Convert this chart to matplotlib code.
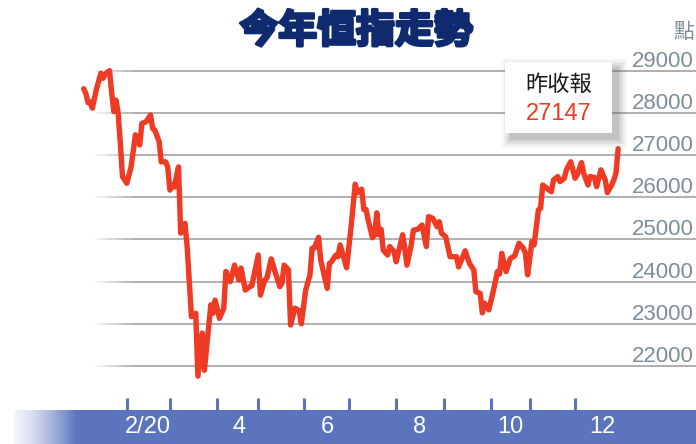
"""
Hang Seng Index, 2020 year-to-date (今年恒指走勢)
Renders out.png, 696x444.
"""

import matplotlib
matplotlib.use("Agg")
import matplotlib.pyplot as plt
import matplotlib.transforms as mtransforms
import matplotlib.patheffects as pe
from matplotlib.colors import to_rgb
from matplotlib.patches import Rectangle

plt.rcParams["font.family"] = ["Liberation Sans", "Noto Sans CJK TC", "DejaVu Sans"]
CJK = ["Noto Sans CJK TC", "DejaVu Sans"]

W, H = 696, 444

# Trading-day index (0 = first session of the year) and index level
days = [0, 1, 2, 3, 4, 6, 8, 9, 10, 12, 13, 14, 15, 16, 17, 18, 20, 22, 24, 26,
        27, 29, 31, 32, 33, 35, 36, 38, 39, 40, 41, 42, 44, 45, 47, 48, 50, 52, 53, 55,
        56, 58, 59, 60, 61, 63, 65, 66, 68, 70, 72, 73, 75, 77, 78, 81, 82, 84, 85, 87,
        89, 91, 92, 93, 95, 96, 98, 100, 101, 103, 105, 106, 107, 109, 110, 113, 114, 115, 117, 118,
        119, 122, 124, 126, 127, 129, 130, 131, 132, 134, 135, 136, 137, 138, 139, 141, 142, 144, 145, 148,
        149, 150, 152, 153, 155, 157, 159, 160, 162, 164, 165, 166, 168, 170, 173, 174, 177, 179, 181, 182,
        184, 185, 186, 188, 190, 192, 193, 194, 196, 198, 200, 202, 204, 205, 206, 208, 209, 211, 212, 213,
        215, 217, 218, 220, 221, 223, 224, 226, 228, 229, 231, 232, 234, 235, 237, 238, 240, 242, 243, 245,
        246, 247, 248]
hsi = [28570, 28460, 28240, 28260, 28110, 28580, 28940, 28820, 28920, 29000, 28460, 28030, 28300, 27990, 27280, 26490, 26330, 26720, 27480, 27240,
       27750, 27790, 27950, 27630, 27590, 27320, 26840, 26840, 26720, 26170, 26290, 26240, 26720, 25150, 25380, 24830, 23170, 23250, 21760, 22780,
       21900, 22930, 23450, 23250, 23560, 23130, 23370, 24240, 24000, 24390, 24040, 24320, 23800, 23880, 23900, 24630, 23680, 24040, 24080, 24540,
       24200, 23880, 23960, 24390, 24280, 22970, 23370, 23310, 23000, 23800, 24160, 24790, 24790, 25050, 24510, 23840, 24430, 24470, 24630, 24590,
       24870, 24330, 25260, 26310, 26110, 26190, 25710, 25710, 25460, 25040, 25110, 25630, 25110, 25240, 24750, 24630, 24830, 24710, 24470, 25110,
       24790, 24390, 24870, 25220, 25240, 25340, 24830, 25540, 25500, 25300, 25420, 25150, 25060, 24590, 24590, 24350, 24730, 24430, 24280, 23760,
       23720, 23260, 23490, 23330, 23760, 24240, 24180, 24670, 24240, 24550, 24610, 24910, 24790, 24670, 24160, 24950, 24870, 25700, 25740, 26290,
       26210, 26130, 26410, 26490, 26370, 26450, 26650, 26840, 26450, 26530, 26820, 26570, 26290, 26490, 26470, 26250, 26650, 26410, 26110, 26290,
       26410, 26570, 27150]

y_levels = [22000, 23000, 24000, 25000, 26000, 27000, 28000, 29000]
month_starts = [20, 40, 62, 81, 102, 123, 145, 167, 189, 207, 228]
label_days = [30, 72, 113, 156, 198, 240.5]
month_labels = ["2/20", "4", "6", "8", "10", "12"]
last_close = "27147"

LINE_RED = "#ef3b23"
BAR_BLUE = "#5b74bd"
AXIS_GREY = "#7d8e98"
GRID_GREY = "#a9a9a9"
TITLE_NAVY = "#0f2a6e"

fig = plt.figure(figsize=(W / 100, H / 100), dpi=100)
ax = fig.add_axes([0, 0, 1, 1])
ax.set_axis_off()

# scale: day 0 at px 83.7, 2.155 px per session; 22000 at px 366, 42.19 px per 1000 points
x0_px, px_per_day = 83.7, 2.155
y0_px, px_per_pt = 366.0, 0.04219
ax.set_xlim(-x0_px / px_per_day, (W - x0_px) / px_per_day)
ax.set_ylim(22000 - (H - y0_px) / px_per_pt, 22000 + y0_px / px_per_pt)

# pixel coords, origin top-left
px = mtransforms.Affine2D().scale(1 / W, -1 / H).translate(0, 1) + fig.transFigure
px_x_data_y = mtransforms.blended_transform_factory(px, ax.transData)
data_x_px_y = mtransforms.blended_transform_factory(ax.transData, px)


def fade(color, t):
    """Blend colour toward white; t=1 gives the full colour."""
    r, g, b = to_rgb(color)
    return (1 - t + t * r, 1 - t + t * g, 1 - t + t * b)


# ── gridlines, fading in on the left ─────────────────────────────────────
fade_start, fade_end, n_fade = 92, 135, 20
step = (fade_end - fade_start) / n_fade
for lvl in y_levels:
    ax.plot([fade_end - 0.5, W], [lvl, lvl], transform=px_x_data_y,
            color=GRID_GREY, lw=1.3, zorder=1, solid_capstyle="butt")
    for i in range(n_fade):
        xa = fade_start + i * step
        ax.plot([xa, xa + step + 0.5], [lvl, lvl], transform=px_x_data_y,
                color=fade(GRID_GREY, (i + 0.5) / n_fade), lw=1.3, zorder=1,
                solid_capstyle="butt")
    ax.text(694, lvl, f"{lvl}", transform=mtransforms.offset_copy(px_x_data_y, fig, y=4, units="dots"),
            ha="right", va="baseline", fontsize=16, color=AXIS_GREY, zorder=6)

fig.text(694, 32, "點", transform=px, ha="right", va="center",
         fontsize=15, color=AXIS_GREY, family=CJK)

# ── index line ───────────────────────────────────────────────────────────
ax.plot(days, hsi, color=LINE_RED, lw=3.9, solid_joinstyle="round",
        solid_capstyle="round", zorder=3)

# ── last close box with soft shadow ──────────────────────────────────────
bx, by, bw, bh = 505, 62, 107, 71
for s, a in [(9, 0.05), (7, 0.06), (5, 0.08), (3, 0.10), (1, 0.14)]:
    ax.add_patch(Rectangle((bx + 6 - s, by + 6 - s), bw + 2 * s, bh + 2 * s,
                           transform=px, fc="#5e5e5e", ec="none", alpha=a, zorder=4))
ax.add_patch(Rectangle((bx, by), bw, bh, transform=px, fc="white", ec="none", zorder=5))
ax.text(bx + bw / 2, 84, "昨收報", transform=px, ha="center", va="center",
        fontsize=16, color="#1a1a1a", family=CJK, zorder=6)
ax.text(bx + bw / 2, 114, last_close, transform=px, ha="center", va="center",
        fontsize=17, color=LINE_RED, zorder=6)

# ── bottom date band ─────────────────────────────────────────────────────
ax.add_patch(Rectangle((75, 410), W - 75, 34, transform=px, fc=BAR_BLUE, ec="none", zorder=2))
g0, g1, n_g = 14, 76, 40
gs = (g1 - g0) / n_g
for i in range(n_g):
    ax.add_patch(Rectangle((g0 + i * gs, 410), gs + 0.6, 34, transform=px,
                           fc=fade(BAR_BLUE, 0.08 + 0.92 * ((i + 0.5) / n_g) ** 1.4),
                           ec="none", zorder=2))

for d in month_starts:
    ax.plot([d, d], [398, 410], transform=data_x_px_y, color=BAR_BLUE, lw=2.2,
            solid_capstyle="butt", zorder=2)

for d, lab in zip(label_days, month_labels):
    ax.text(d, 427, lab, transform=data_x_px_y, ha="center", va="center",
            fontsize=17, color="white", zorder=6)

# ── title ────────────────────────────────────────────────────────────────
fig.text(356, 31, "今年恒指走勢", transform=px, ha="center", va="center",
         fontsize=28, fontweight="heavy", color=TITLE_NAVY, family=CJK,
         path_effects=[pe.withStroke(linewidth=2.2, foreground=TITLE_NAVY)])

fig.savefig("out.png", dpi=100)
